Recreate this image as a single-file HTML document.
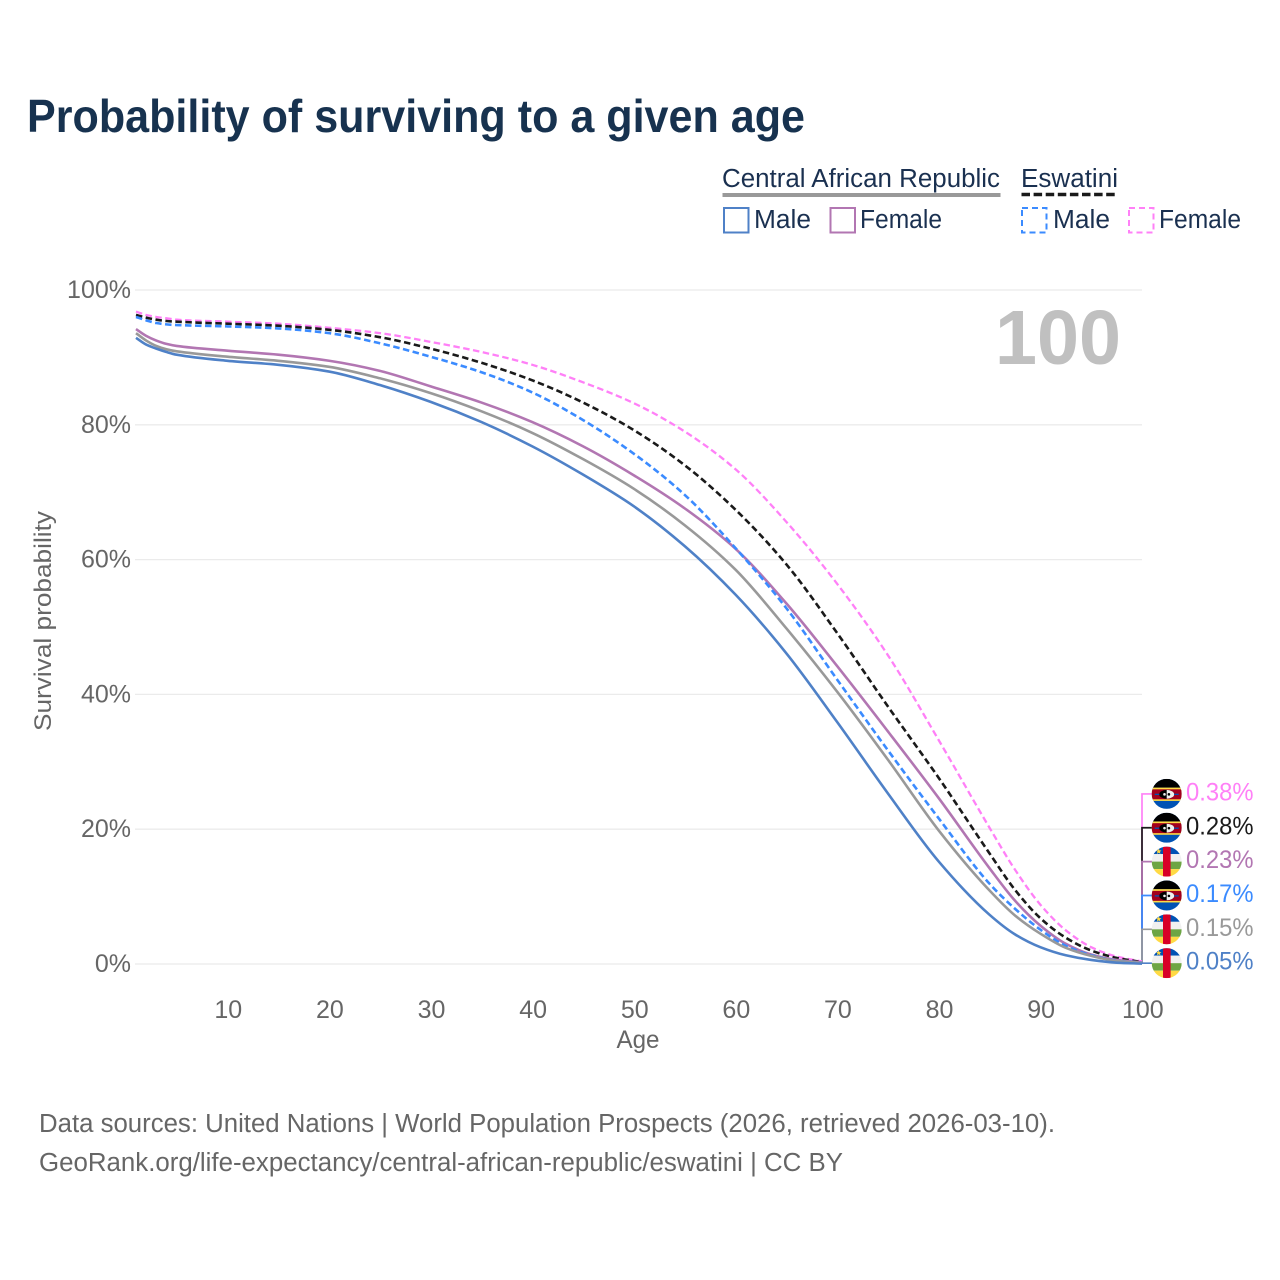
<!DOCTYPE html>
<html lang="en">
<head>
<meta charset="utf-8">
<title>Probability of surviving to a given age</title>
<style>
html,body{margin:0;padding:0;background:#fff;}
svg{display:block;font-family:"Liberation Sans",sans-serif;}
.tick{fill:#666;font-size:25px;}
.legend-text{fill:#1a3050;font-size:25.5px;}
.foot{fill:#666;font-size:25.5px;}
</style>
</head>
<body>
<svg id="chart" width="1280" height="1280" viewBox="0 0 1280 1280" xmlns="http://www.w3.org/2000/svg">
  <defs>
    <clipPath id="flag-clip"><circle cx="15" cy="15" r="15"/></clipPath>
    <symbol id="flag-eswatini" viewBox="0 0 30 30">
      <g clip-path="url(#flag-clip)">
        <rect width="30" height="30" fill="#0052b4"/>
        <rect width="30" height="8.7" fill="#000"/>
        <rect y="8.7" width="30" height="13.3" fill="#ffda44"/>
        <rect y="10.4" width="30" height="10" fill="#a2001d"/>
        <ellipse cx="15" cy="15.4" rx="7.5" ry="4.4" fill="#000"/>
        <path d="M15 11A7.5 4.4 0 0 1 15 19.8Z" fill="#f0f0f0"/>
        <circle cx="12.8" cy="15.4" r="1.3" fill="#f0f0f0"/>
        <circle cx="17.2" cy="15.4" r="1.3" fill="#000"/>
        <rect x="3" y="14.8" width="4.6" height="1.3" fill="#0052b4"/>
        <rect x="22.4" y="14.8" width="4.6" height="1.3" fill="#0052b4"/>
      </g>
    </symbol>
    <symbol id="flag-car" viewBox="0 0 30 30">
      <g clip-path="url(#flag-clip)">
        <rect width="30" height="7.5" fill="#0052b4"/>
        <rect y="7.5" width="30" height="7.5" fill="#f0f0f0"/>
        <rect y="15" width="30" height="7.5" fill="#6da544"/>
        <rect y="22.5" width="30" height="7.5" fill="#ffda44"/>
        <rect x="11.3" width="7.6" height="30" fill="#d80027"/>
        <path d="M7 1.8l.8 2 2 .1-1.6 1.3.6 2-1.8-1.1-1.8 1.1.6-2-1.6-1.3 2-.1z" fill="#ffda44"/>
      </g>
    </symbol>
  </defs>

  <rect width="1280" height="1280" fill="#fff"/>

  <text x="27" y="132" font-size="46" font-weight="700" fill="#17324f" textLength="778" lengthAdjust="spacingAndGlyphs">Probability of surviving to a given age</text>

  <g>
    <text class="legend-text" x="722" y="187" textLength="278" lengthAdjust="spacingAndGlyphs">Central African Republic</text>
    <rect x="722.5" y="193" width="278" height="4" fill="#999"/>
    <text class="legend-text" x="1021" y="187" textLength="97" lengthAdjust="spacingAndGlyphs">Eswatini</text>
    <line x1="1021.5" y1="194.5" x2="1118" y2="194.5" stroke="#1a1a1a" stroke-width="3.5" stroke-dasharray="8.5 3.6"/>

    <rect x="724" y="208" width="24.5" height="24.5" fill="none" stroke="#4f81c7" stroke-width="2"/>
    <text class="legend-text" x="754" y="228" textLength="57" lengthAdjust="spacingAndGlyphs">Male</text>
    <rect x="830.5" y="208" width="24.5" height="24.5" fill="none" stroke="#b276b2" stroke-width="2"/>
    <text class="legend-text" x="860" y="228" textLength="82" lengthAdjust="spacingAndGlyphs">Female</text>

    <rect x="1022" y="208" width="24.5" height="24.5" fill="none" stroke="#3b8bff" stroke-width="2" stroke-dasharray="6 4"/>
    <text class="legend-text" x="1053" y="228" textLength="57" lengthAdjust="spacingAndGlyphs">Male</text>
    <rect x="1129" y="208" width="24.5" height="24.5" fill="none" stroke="#ff80f7" stroke-width="2" stroke-dasharray="6 4"/>
    <text class="legend-text" x="1159" y="228" textLength="82" lengthAdjust="spacingAndGlyphs">Female</text>
  </g>

  <g id="grid"></g>
  <g id="y-ticks"></g>
  <g id="x-ticks"></g>

  <text x="1121" y="364" text-anchor="end" font-size="77" font-weight="700" fill="#c0c0c0" textLength="126" lengthAdjust="spacingAndGlyphs">100</text>

  <g id="connectors"></g>
  <g id="series"></g>
  <g id="end-labels"></g>

  <text x="638" y="1048" text-anchor="middle" font-size="25" fill="#666" textLength="43" lengthAdjust="spacingAndGlyphs">Age</text>
  <text transform="translate(51,621) rotate(-90)" text-anchor="middle" font-size="24.5" fill="#666" textLength="220" lengthAdjust="spacingAndGlyphs">Survival probability</text>

  <text class="foot" x="39" y="1132" textLength="1016" lengthAdjust="spacingAndGlyphs">Data sources: United Nations | World Population Prospects (2026, retrieved 2026-03-10).</text>
  <text class="foot" x="39" y="1171" textLength="804" lengthAdjust="spacingAndGlyphs">GeoRank.org/life-expectancy/central-african-republic/eswatini | CC BY</text>
</svg>

<script>
var ages = [1,2,3,4,5,10,15,20,25,30,35,40,45,50,55,60,65,70,75,80,85,87.5,90,92.5,95,97.5,100];
var eswatiniFemale = [96.8,96.3,96.0,95.8,95.6,95.3,95.0,94.4,93.6,92.3,90.8,88.9,86.3,83.2,79.0,73.4,65.6,56.4,45.8,33.2,20.2,14.0,8.8,5.0,2.5,1.1,0.38];
var eswatiniTotal = [96.3,95.9,95.6,95.4,95.3,95.0,94.7,94.1,93.0,91.3,89.2,86.6,83.3,79.2,74.0,67.4,59.3,49.1,38.2,27.6,16.4,11.0,6.8,3.9,2.0,0.9,0.28];
var carFemale = [94.2,93.2,92.5,92.0,91.7,91.0,90.4,89.5,88.0,85.7,83.3,80.4,76.8,72.5,67.6,61.6,53.5,44.2,34.5,24.6,14.2,9.4,5.7,3.0,1.4,0.6,0.23];
var eswatiniMale = [96.0,95.5,95.1,94.9,94.8,94.6,94.3,93.6,92.1,90.1,87.8,84.8,80.7,75.7,69.6,61.7,52.8,42.2,31.7,21.6,11.9,8.2,5.1,2.7,1.3,0.5,0.17];
var carTotal = [93.6,92.5,91.7,91.2,90.9,90.1,89.5,88.6,86.9,84.7,82.0,78.8,74.9,70.5,65.1,58.5,49.8,40.4,30.3,19.8,10.9,7.2,4.5,2.4,1.2,0.45,0.15];
var carMale = [92.9,91.9,91.3,90.8,90.4,89.5,88.9,87.9,85.9,83.4,80.4,76.8,72.6,67.9,62.0,54.8,46.1,35.9,25.3,15.2,7.3,4.4,2.5,1.3,0.6,0.2,0.05];

var xTickValues = [10,20,30,40,50,60,70,80,90,100];
var yTickValues = [0,20,40,60,80,100];

var SVG_NS = 'http://www.w3.org/2000/svg';
function xScale(age) { return 136 + (age - 1) * (1142 - 136) / 99; }
function yScale(pct) { return 964 - pct * 6.74; }
function make(tag, parent) {
  var el = document.createElementNS(SVG_NS, tag);
  parent.appendChild(el);
  return el;
}

function monotonePath(xs, ys) {
  var n = xs.length, d = [], m = [], i;
  for (i = 0; i < n - 1; i++) d.push((ys[i + 1] - ys[i]) / (xs[i + 1] - xs[i]));
  m.push(d[0]);
  for (i = 1; i < n - 1; i++) {
    if (d[i - 1] * d[i] <= 0) { m.push(0); }
    else {
      var h0 = xs[i] - xs[i - 1], h1 = xs[i + 1] - xs[i];
      m.push(3 * (h0 + h1) / ((2 * h1 + h0) / d[i - 1] + (h1 + 2 * h0) / d[i]));
    }
  }
  m.push(d[n - 2]);
  var path = 'M' + xs[0].toFixed(2) + ',' + ys[0].toFixed(2);
  for (i = 0; i < n - 1; i++) {
    var h = (xs[i + 1] - xs[i]) / 3;
    path += 'C' + (xs[i] + h).toFixed(2) + ',' + (ys[i] + m[i] * h).toFixed(2) + ' ' +
      (xs[i + 1] - h).toFixed(2) + ',' + (ys[i + 1] - m[i + 1] * h).toFixed(2) + ' ' +
      xs[i + 1].toFixed(2) + ',' + ys[i + 1].toFixed(2);
  }
  return path;
}

var gridGroup = document.getElementById('grid');
var yTickGroup = document.getElementById('y-ticks');
yTickValues.forEach(function (v) {
  var line = make('line', gridGroup);
  
  
  line.setAttribute('x1', xScale(1) - 1);
  line.setAttribute('x2', xScale(100));
  line.setAttribute('y1', yScale(v));
  line.setAttribute('y2', yScale(v));
  line.setAttribute('stroke', '#ebebeb');
  line.setAttribute('stroke-width', '1.3');
  var t = make('text', yTickGroup);
  
  
  t.setAttribute('class', 'tick');
  t.setAttribute('x', 131);
  t.setAttribute('y', yScale(v) + 8);
  t.setAttribute('text-anchor', 'end');
  t.textContent = v + '%';
});

var xTickGroup = document.getElementById('x-ticks');
xTickValues.forEach(function (v) {
  var t = make('text', xTickGroup);
  
  
  t.setAttribute('class', 'tick');
  t.setAttribute('x', xScale(v) + 0.8);
  t.setAttribute('y', 1018);
  t.setAttribute('text-anchor', 'middle');
  t.textContent = v;
});

var eswatiniFlag = '#flag-eswatini';
var carFlag = '#flag-car';
var seriesList = [
  { key: 'eswatini-female', values: eswatiniFemale, color: '#ff80f7', width: 2.3, dash: '6.5 3.5', flag: eswatiniFlag },
  { key: 'eswatini-total', values: eswatiniTotal, color: '#1a1a1a', width: 2.6, dash: '6.5 3.5', flag: eswatiniFlag },
  { key: 'car-female', values: carFemale, color: '#b276b2', width: 2.6, dash: '', flag: carFlag },
  { key: 'eswatini-male', values: eswatiniMale, color: '#3b8bff', width: 2.6, dash: '6.5 3.5', flag: eswatiniFlag },
  { key: 'car-total', values: carTotal, color: '#999999', width: 2.6, dash: '', flag: carFlag },
  { key: 'car-male', values: carMale, color: '#4f81c7', width: 2.6, dash: '', flag: carFlag }
];

var seriesGroup = document.getElementById('series');
var connectorGroup = document.getElementById('connectors');
var labelGroup = document.getElementById('end-labels');
var xsPixels = ages.map(xScale);
var lastIndex = ages.length - 1;
var ordered = seriesList.slice().sort(function (a, b) { return a.values[lastIndex] - b.values[lastIndex]; });
var bottomLabelY = yScale(ordered[0].values[lastIndex]) - 0.5;

seriesList.forEach(function (s) {
  var p = make('path', seriesGroup);
  
  
  p.setAttribute('d', monotonePath(xsPixels, s.values.map(yScale)));
  p.setAttribute('fill', 'none');
  p.setAttribute('stroke', s.color);
  p.setAttribute('stroke-width', s.width);
  p.setAttribute('stroke-linejoin', 'round');
  if (s.dash) p.setAttribute('stroke-dasharray', s.dash);

  var value = s.values[lastIndex];
  var labelY = bottomLabelY - ordered.indexOf(s) * 33.85;

  var c = make('path', connectorGroup);
  
  
  c.setAttribute('d', 'M' + xScale(100) + ',' + yScale(value) + 'V' + labelY + 'H1152');
  c.setAttribute('fill', 'none');
  c.setAttribute('stroke', s.color);
  c.setAttribute('stroke-width', '1.7');

  var f = make('use', labelGroup);
  
  
  f.setAttribute('href', s.flag);
  f.setAttribute('x', 1151.7);
  f.setAttribute('y', labelY - 15);
  f.setAttribute('width', 30);
  f.setAttribute('height', 30);

  var t = make('text', labelGroup);
  
  
  t.setAttribute('x', 1186);
  t.setAttribute('y', labelY + 6.5);
  t.setAttribute('font-size', '25');
  t.setAttribute('textLength', '67.5');
  t.setAttribute('lengthAdjust', 'spacingAndGlyphs');
  t.setAttribute('fill', s.color);
  t.textContent = value.toFixed(2) + '%';
});
</script>
</body>
</html>
